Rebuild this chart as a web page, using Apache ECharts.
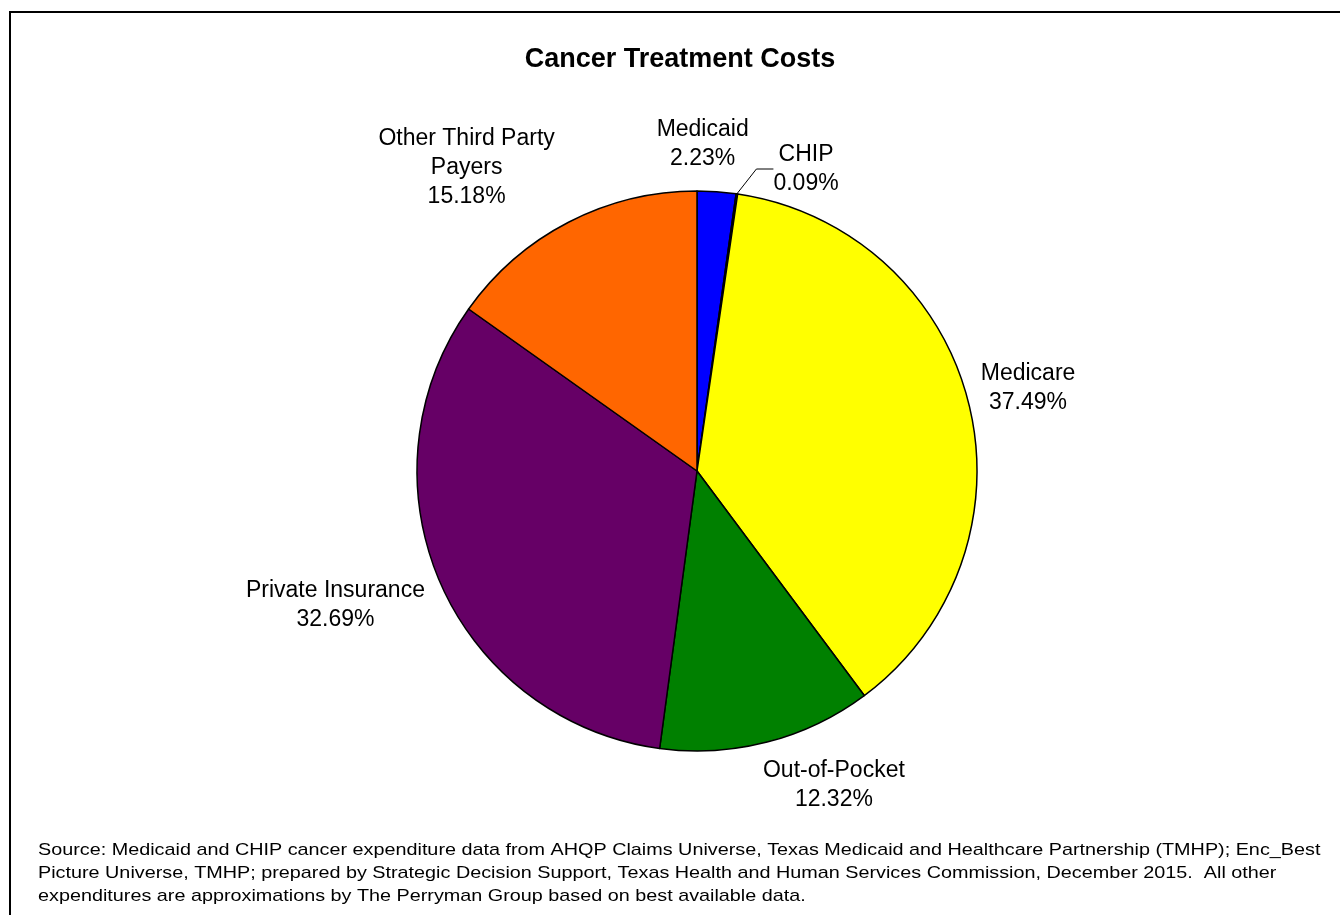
<!DOCTYPE html>
<html><head><meta charset="utf-8">
<script src="https://cdn.jsdelivr.net/npm/echarts@6/dist/echarts.min.js"></script>
<style>html,body{margin:0;padding:0;background:#fff}#c{width:1340px;height:915px}</style>
</head><body><div id="c"></div>
<script>
// ---- data ----
const categories = ['Medicaid', 'CHIP', 'Medicare', 'Out-of-Pocket', 'Private Insurance', 'Other Third Party Payers'];
const labelNames = ['Medicaid', 'CHIP', 'Medicare', 'Out-of-Pocket', 'Private Insurance', 'Other Third Party\nPayers'];
const shares = [2.23, 0.09, 37.49, 12.32, 32.69, 15.18];
const colors = ['#0000FF', '#33CCCC', '#FFFF00', '#008000', '#660066', '#FF6600'];
const chartTitle = 'Cancer Treatment Costs';
const sourceNote = [
  'Source: Medicaid and CHIP cancer expenditure data from AHQP Claims Universe, Texas Medicaid and Healthcare Partnership (TMHP); Enc_Best',
  'Picture Universe, TMHP; prepared by Strategic Decision Support, Texas Health and Human Services Commission, December 2015.  All other',
  'expenditures are approximations by The Perryman Group based on best available data.'
];

// ---- layout ----
const FONT = '"Liberation Sans", Arial, Helvetica, sans-serif';
const CX = 697, CY = 471, R = 280, GAP = 15;
const labelNudge = [[-15, -33], [67, -10], [45, -11], [63, 29], [-91, 17], [-95, -41]];

const total = shares.reduce((a, b) => a + b, 0);
const midAngles = [];
let acc = 0;
shares.forEach(v => { midAngles.push((acc + v / 2) / total * 2 * Math.PI); acc += v; });

const chart = echarts.init(document.getElementById('c'), null, { renderer: 'canvas' });
chart.setOption({
  backgroundColor: '#fff',
  animation: false,
  title: {
    text: chartTitle, left: 675, top: 41, textAlign: 'center',
    textStyle: { fontFamily: FONT, fontSize: 27, fontWeight: 'bold', color: '#000' }
  },
  graphic: [
    { type: 'rect', shape: { x: 10, y: 12, width: 1400, height: 1000 },
      style: { fill: 'none', stroke: '#000', lineWidth: 2 }, silent: true },
    { type: 'text', x: 38, y: 839, scaleX: 1.164,
      style: { text: sourceNote.join('\n'), font: '17px ' + FONT, fill: '#000', lineHeight: 23 } }
  ],
  series: [{
    type: 'pie',
    center: [CX, CY],
    radius: R,
    startAngle: 90,
    clockwise: true,
    avoidLabelOverlap: false,
    itemStyle: { borderColor: '#000', borderWidth: 1.5 },
    label: {
      show: true, position: 'outside', fontFamily: FONT, fontSize: 23, lineHeight: 29, color: '#000',
      formatter: p => labelNames[p.dataIndex] + '\n' + shares[p.dataIndex].toFixed(2) + '%'
    },
    labelLine: { show: false, length: 25, length2: 17, lineStyle: { color: '#000', width: 1 } },
    labelLayout: p => {
      const a = midAngles[p.dataIndex];
      const ax = CX + Math.sin(a) * (R + GAP);
      const ay = CY - Math.cos(a) * (R + GAP);
      const n = labelNudge[p.dataIndex];
      return { x: ax + n[0], y: ay + n[1], align: 'center', verticalAlign: 'middle' };
    },
    data: categories.map((c, i) => ({
      name: c, value: shares[i], itemStyle: { color: colors[i] },
      labelLine: { show: c === 'CHIP' }
    }))
  }]
});
</script>
</body></html>
